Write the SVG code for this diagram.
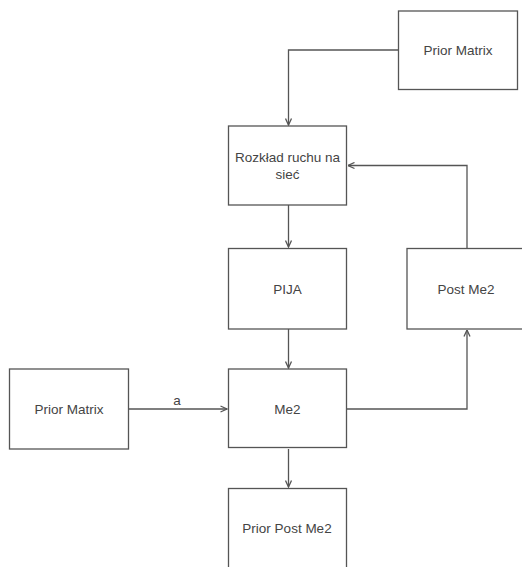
<svg xmlns="http://www.w3.org/2000/svg" width="522" height="567" viewBox="0 0 522 567">
<defs>
<style>
.box{fill:#fff;stroke:#555;stroke-width:1.3}
.lbl{font-family:"Liberation Sans",Arial,sans-serif;font-size:13.5px;fill:#444;text-anchor:middle;dominant-baseline:central}
.edge{fill:none;stroke:#555;stroke-width:1.3}
</style>
<marker id="arr" viewBox="0 0 8 8" refX="7.5" refY="4" markerWidth="8" markerHeight="8" markerUnits="userSpaceOnUse" orient="auto">
<path d="M1,1 L7.5,4 L1,7" fill="none" stroke="#555" stroke-width="1.3"/>
</marker>
</defs>
<rect width="522" height="567" fill="#fff"/>
<g id="connectors">
<path class="edge" d="M398,50 H288.5 V125" marker-end="url(#arr)"/>
<path class="edge" d="M467,248 V165.5 H348" marker-end="url(#arr)"/>
<path class="edge" d="M288.5,205 V247" marker-end="url(#arr)"/>
<path class="edge" d="M288.5,329 V368" marker-end="url(#arr)"/>
<path class="edge" d="M128.5,409 H227" marker-end="url(#arr)"/>
<path class="edge" d="M347,409 H467 V330" marker-end="url(#arr)"/>
<path class="edge" d="M288.5,449 V487" marker-end="url(#arr)"/>
<text class="lbl" x="177" y="400">a</text>
</g>
<g id="prior-matrix-top">
<rect class="box" x="398.5" y="11" width="119" height="78.5"/>
<text class="lbl" x="458" y="50">Prior Matrix</text>
</g>
<g id="rozklad">
<rect class="box" x="228.5" y="126" width="118" height="79"/>
<text class="lbl" x="287.5" y="157">Rozkład ruchu na</text>
<text class="lbl" x="287.5" y="174">sieć</text>
</g>
<g id="pija">
<rect class="box" x="228.5" y="248.5" width="118" height="80.5"/>
<text class="lbl" x="287.5" y="289">PIJA</text>
</g>
<g id="post-me2">
<rect class="box" x="407" y="248.5" width="120" height="80.5"/>
<text class="lbl" x="466" y="289">Post Me2</text>
</g>
<g id="prior-matrix-left">
<rect class="box" x="9.5" y="369" width="119" height="80"/>
<text class="lbl" x="69" y="409">Prior Matrix</text>
</g>
<g id="me2">
<rect class="box" x="228.5" y="369" width="118" height="78.5"/>
<text class="lbl" x="287.5" y="409">Me2</text>
</g>
<g id="prior-post-me2">
<rect class="box" x="228.5" y="488.5" width="118" height="82"/>
<text class="lbl" x="287" y="528">Prior Post Me2</text>
</g>
</svg>
